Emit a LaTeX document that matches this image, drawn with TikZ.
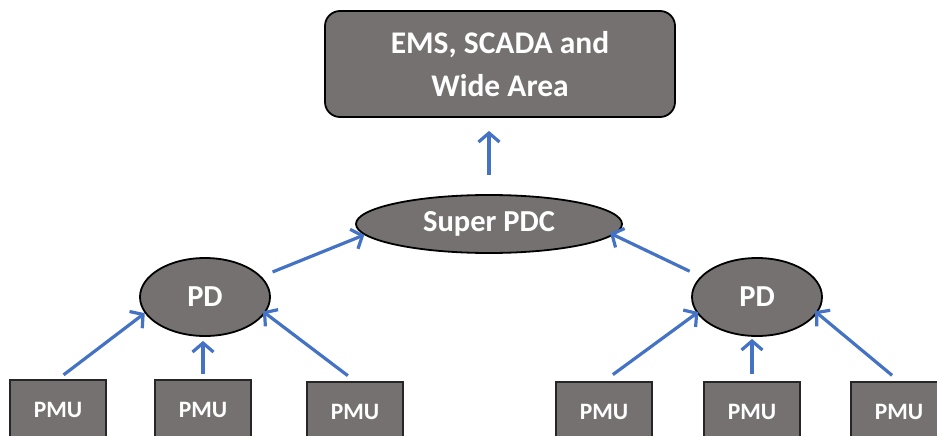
\documentclass[tikz,border=0pt]{standalone}
\usepackage{fontspec}
\setmainfont{Carlito}
\usetikzlibrary{
  positioning,
  arrows.meta,
  shapes.geometric
}
\definecolor{pdcGray}{HTML}{757171}
\definecolor{pdcBlue}{HTML}{4472C4}

\begin{document}
\begin{tikzpicture}[
  x=1pt, y=-1pt,
  every node/.style={font=\bfseries, text=white, align=center, inner sep=0pt},
  topbox/.style={
    rectangle, rounded corners=15pt,
    draw=black, fill=pdcGray, line width=1.8pt,
    minimum width=350pt, minimum height=106pt,
    font=\fontsize{31.5}{43}\selectfont\bfseries
  },
  pdcnode/.style={
    ellipse, draw=black, fill=pdcGray, line width=1.8pt,
    font=\fontsize{30.5}{36}\selectfont\bfseries
  },
  pmubox/.style={
    rectangle, draw=black!85, fill=pdcGray, line width=1.8pt,
    minimum width=96pt, minimum height=60pt,
    font=\fontsize{23.5}{28}\selectfont\bfseries
  },
  link/.style={draw=pdcBlue, line width=3.2pt,
    -{Straight Barb[length=9pt,width=21pt]}}
]
 \useasboundingbox (0,0) rectangle (937,436);
 \clip (0,0) rectangle (937,436);

 % Top level
 \node[topbox] (ems) at (500,64) {EMS, SCADA and\\Wide Area};
 \node[pdcnode, minimum width=266pt, minimum height=58pt] (spdc) at (489,224) {Super PDC};

 % Data concentrators
 \node[pdcnode, minimum width=130pt, minimum height=78pt] (pdL) at (205,297) {PD};
 \node[pdcnode, minimum width=130pt, minimum height=78pt] (pdR) at (757,297) {PD};

 % Measurement units
 \node[pmubox] (pmuA) at (58,410) {PMU};
 \node[pmubox] (pmuB) at (203,410) {PMU};
 \node[pmubox] (pmuC) at (355,412) {PMU};
 \node[pmubox] (pmuD) at (604,412) {PMU};
 \node[pmubox] (pmuE) at (752,412) {PMU};
 \node[pmubox] (pmuF) at (899,412) {PMU};

 % Links, left branch
 \draw[link, shorten <=7pt] (pmuA.north) -- (pdL.195);
 \draw[link, shorten <=5pt, shorten >=4pt] (pmuB.north) -- (pmuB.north |- pdL.south);
 \draw[link, shorten <=9pt, shorten >=-3pt] (pmuC.north) -- (pdL.345);

 % Links, right branch
 \draw[link, shorten <=11pt, shorten >=-2pt] (pmuD.north) -- (pdR.195);
 \draw[link, shorten <=7pt, shorten >=2pt] (pmuE.north) -- (pmuE.north |- pdR.south);
 \draw[link, shorten <=9pt, shorten >=-3pt] (pmuF.north) -- (pdR.345);

 % Links to the top
 \draw[link, shorten <=12pt] (pdL.20) -- (spdc.185);
 \draw[link, shorten <=12pt, shorten >=-4pt] (pdR.160) -- (spdc.355);
 \draw[link, shorten <=19pt, shorten >=13pt] (spdc.north) -- (spdc.north |- ems.south);
\end{tikzpicture}
\end{document}
